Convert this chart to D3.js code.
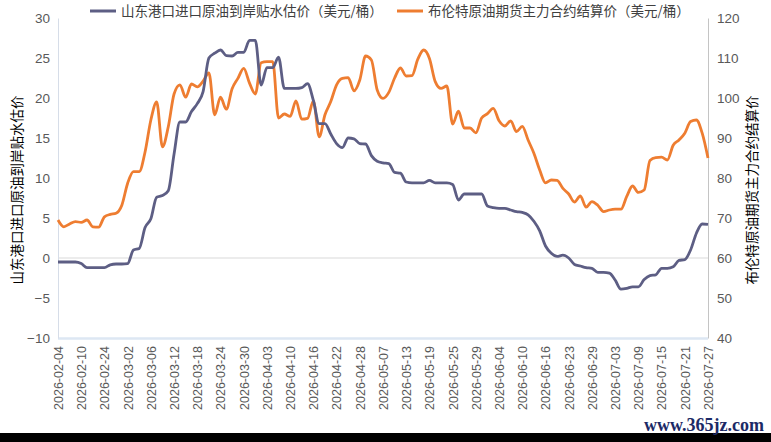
<!DOCTYPE html>
<html>
<head>
<meta charset="utf-8">
<script src="https://cdn.jsdelivr.net/npm/d3@7/dist/d3.min.js"></script>
<style>
  body { margin: 0; background: #fff; }
  svg { display: block; }
  .tick text { fill: #595959; }
</style>
</head>
<body>
<div id="display"></div>
<script>
// trading days on the x axis
const dates = ["2026-02-04","2026-02-05","2026-02-06","2026-02-09","2026-02-10","2026-02-11","2026-02-12","2026-02-13","2026-02-24","2026-02-25","2026-02-26","2026-02-27","2026-03-02","2026-03-03","2026-03-04","2026-03-05","2026-03-06","2026-03-09","2026-03-10","2026-03-11","2026-03-12","2026-03-13","2026-03-16","2026-03-17","2026-03-18","2026-03-19","2026-03-20","2026-03-23","2026-03-24","2026-03-25","2026-03-26","2026-03-27","2026-03-30","2026-03-31","2026-04-01","2026-04-02","2026-04-03","2026-04-07","2026-04-08","2026-04-09","2026-04-10","2026-04-13","2026-04-14","2026-04-15","2026-04-16","2026-04-17","2026-04-20","2026-04-21","2026-04-22","2026-04-23","2026-04-24","2026-04-27","2026-04-28","2026-04-29","2026-04-30","2026-05-06","2026-05-07","2026-05-08","2026-05-11","2026-05-12","2026-05-13","2026-05-14","2026-05-15","2026-05-18","2026-05-19","2026-05-20","2026-05-21","2026-05-22","2026-05-25","2026-05-26","2026-05-27","2026-05-28","2026-05-29","2026-06-01","2026-06-02","2026-06-03","2026-06-04","2026-06-05","2026-06-08","2026-06-09","2026-06-10","2026-06-11","2026-06-12","2026-06-15","2026-06-16","2026-06-17","2026-06-18","2026-06-22","2026-06-23","2026-06-24","2026-06-25","2026-06-26","2026-06-29","2026-06-30","2026-07-01","2026-07-02","2026-07-03","2026-07-06","2026-07-07","2026-07-08","2026-07-09","2026-07-10","2026-07-13","2026-07-14","2026-07-15","2026-07-16","2026-07-17","2026-07-20","2026-07-21","2026-07-22","2026-07-23","2026-07-24","2026-07-27"];

const tickLabels = ["2026-02-04","2026-02-10","2026-02-24","2026-03-02","2026-03-06","2026-03-12","2026-03-18","2026-03-24","2026-03-30","2026-04-03","2026-04-10","2026-04-16","2026-04-22","2026-04-28","2026-05-07","2026-05-13","2026-05-19","2026-05-25","2026-05-29","2026-06-04","2026-06-10","2026-06-16","2026-06-23","2026-06-29","2026-07-03","2026-07-09","2026-07-15","2026-07-21","2026-07-27"];

// 山东港口进口原油到岸贴水估价 (left axis)
const premium = [-0.5,-0.5,-0.5,-0.5,-0.7,-1.2,-1.2,-1.2,-1.2,-0.85,-0.75,-0.75,-0.7,
  1.0,1.2,3.8,4.9,7.6,7.8,8.4,13.0,17.0,17.0,18.3,19.3,20.8,25.0,25.6,
  26.0,25.3,25.25,25.7,25.7,27.2,27.2,
  21.6,23.8,23.8,25.1,21.2,21.2,21.2,21.3,21.8,19.7,16.8,16.8,15.5,14.3,13.8,15.0,14.9,14.3,14.25,12.8,12.1,
  11.9,11.8,10.7,10.6,9.5,9.4,9.4,9.4,9.7,9.4,9.4,9.4,9.2,7.25,8.0,8.0,8.0,8.0,
  6.5,6.3,6.2,6.2,6.0,5.8,5.7,5.4,4.6,3.4,
  1.5,0.6,0.2,0.35,0.0,-0.8,-1.0,-1.2,-1.3,-1.8,-1.8,-1.9,-2.75,-3.9,-3.8,-3.6,-3.6,-2.7,-2.2,-2.1,-1.3,-1.3,-1.1,-0.3,-0.2,1.0,3.1,4.25,4.2];

// 布伦特原油期货主力合约结算价 (right axis)
const brent = [69.5,67.8,68.5,69.1,68.9,69.5,67.8,67.7,70.3,70.9,71.2,73.2,
  78.7,81.6,81.6,86.5,94.5,99.0,87.8,92.8,101.0,103.3,100.2,103.5,102.8,104.2,106.3,95.8,
  100.2,97.2,102.3,104.9,107.4,103.7,101.0,108.8,109.1,109.1,95.0,96.0,95.4,99.3,94.7,94.9,99.3,90.3,95.8,99.1,103.3,104.9,105.1,101.8,104.5,110.5,109.5,102.0,
  99.9,101.4,105.0,107.5,105.5,105.6,109.7,112.0,109.9,104.1,102.4,103.0,93.5,96.7,92.5,92.5,91.3,95.0,96.1,97.4,94.3,93.0,94.3,91.6,92.9,89.5,86.2,82.0,
  78.8,79.5,79.4,77.4,76.0,74.0,75.5,72.7,74.1,73.2,71.6,72.0,72.2,72.2,75.4,78.0,76.4,77.0,84.4,85.1,85.2,84.5,88.2,89.5,91.2,94.1,94.5,91.2,85.0];

const leftTicks = [-10,-5,0,5,10,15,20,25,30];
const rightTicks = [40,50,60,70,80,90,100,110,120];

const seriesNames = ["山东港口进口原油到岸贴水估价（美元/桶）", "布伦特原油期货主力合约结算价（美元/桶）"];
const leftTitle = "山东港口进口原油到岸贴水估价";
const rightTitle = "布伦特原油期货主力合约结算价";

const width = 771, height = 442;
const grayColor = "#5d5e84", orangeColor = "#ee7d31";
const cjk = "'Noto Sans CJK SC', sans-serif";
const num = "'Liberation Sans', Arial, sans-serif";

const svg = d3.select("#display").append("svg")
    .attr("width", width).attr("height", height);

const plotLeft = 58, plotRight = 708, plotTop = 18, plotBottom = 338;

const x_scale = d3.scalePoint().domain(dates).range([plotLeft, plotRight]);
const y_left = d3.scaleLinear().domain([-10, 30]).range([plotBottom, plotTop]);
const y_right = d3.scaleLinear().domain([40, 120]).range([plotBottom, plotTop]);

// zero line
svg.append("line")
    .attr("x1", plotLeft).attr("x2", plotRight)
    .attr("y1", y_left(0)).attr("y2", y_left(0))
    .attr("stroke", "#d9d9d9").attr("stroke-width", 1);

// bottom edge
svg.append("line")
    .attr("x1", plotLeft).attr("x2", plotRight)
    .attr("y1", plotBottom + 0.5).attr("y2", plotBottom + 0.5)
    .attr("stroke", "#dde7f3").attr("stroke-width", 2.5);

// left axis
const gY = svg.append("g").attr("transform", `translate(${plotLeft},0)`)
    .call(d3.axisLeft(y_left).tickValues(leftTicks).tickSize(0).tickPadding(8));
gY.select(".domain").attr("stroke", "#d6dde8");
gY.selectAll("text").attr("font-family", num).attr("font-size", "13.5px");

// right axis
const gY2 = svg.append("g").attr("transform", `translate(${plotRight},0)`)
    .call(d3.axisRight(y_right).tickValues(rightTicks).tickSize(0).tickPadding(9));
gY2.select(".domain").attr("stroke", "#c4c4c4");
gY2.selectAll("text").attr("font-family", num).attr("font-size", "13.5px");

// x axis
const gX = svg.append("g").attr("transform", `translate(0,${plotBottom})`)
    .call(d3.axisBottom(x_scale).tickValues(tickLabels).tickSize(0));
gX.select(".domain").remove();
gX.selectAll("text")
    .attr("font-family", num).attr("font-size", "12.5px")
    .attr("text-anchor", "end")
    .attr("transform", "rotate(-90)")
    .attr("x", -8).attr("y", 0).attr("dy", "0.35em");

// lines
const lineLeft = d3.line()
    .x((d, i) => x_scale(dates[i]))
    .y(d => y_left(d))
    .curve(d3.curveMonotoneX);
const lineRight = d3.line()
    .x((d, i) => x_scale(dates[i]))
    .y(d => y_right(d))
    .curve(d3.curveMonotoneX);

svg.append("path").attr("d", lineRight(brent))
    .attr("fill", "none").attr("stroke", orangeColor).attr("stroke-width", 2.8)
    .attr("stroke-linejoin", "round");
svg.append("path").attr("d", lineLeft(premium))
    .attr("fill", "none").attr("stroke", grayColor).attr("stroke-width", 2.8)
    .attr("stroke-linejoin", "round");

// axis titles
svg.append("text")
    .attr("transform", `translate(22,${(plotTop + plotBottom) / 2 + 12}) rotate(-90)`)
    .attr("text-anchor", "middle")
    .attr("font-family", cjk).attr("font-size", "13.5px").attr("fill", "#000")
    .text(leftTitle);
svg.append("text")
    .attr("transform", `translate(757,${(plotTop + plotBottom) / 2 + 12}) rotate(-90)`)
    .attr("text-anchor", "middle")
    .attr("font-family", cjk).attr("font-size", "13.5px").attr("fill", "#000")
    .text(rightTitle);

// legend
const legendItems = [
  { name: seriesNames[0], color: grayColor, x: 90 },
  { name: seriesNames[1], color: orangeColor, x: 397 }
];
legendItems.forEach(item => {
  svg.append("line")
      .attr("x1", item.x).attr("x2", item.x + 26)
      .attr("y1", 11).attr("y2", 11)
      .attr("stroke", item.color).attr("stroke-width", 3);
  svg.append("text")
      .attr("x", item.x + 31).attr("y", 11).attr("dy", "0.35em")
      .attr("font-family", cjk).attr("font-size", "13.5px").attr("fill", "#404040")
      .text(item.name);
});

// bottom band + watermark
svg.append("rect").attr("x", 0).attr("y", 433).attr("width", width).attr("height", 9).attr("fill", "#000");
svg.append("text")
    .attr("x", 764).attr("y", 431)
    .attr("text-anchor", "end")
    .attr("font-family", "'Liberation Serif', serif").attr("font-size", "18px")
    .attr("font-weight", "bold")
    .attr("fill", "#1c2a66")
    .text("www.365jz.com");
</script>
</body>
</html>
